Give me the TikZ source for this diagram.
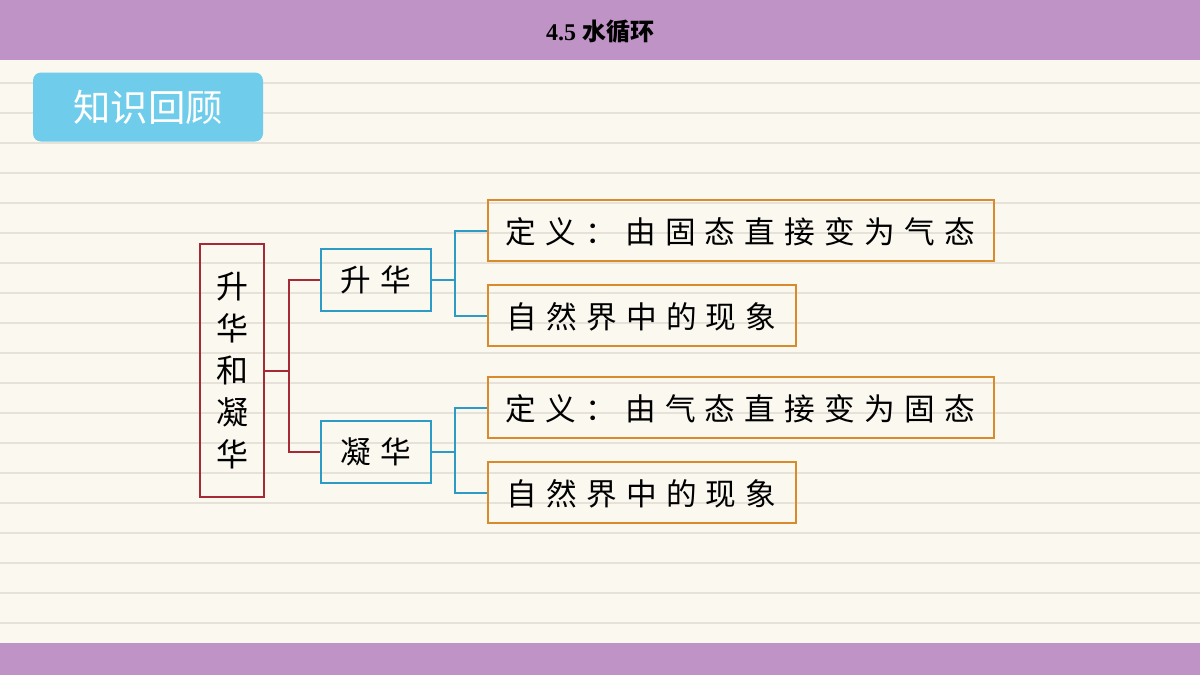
\documentclass[tikz,border=0pt]{standalone}
\usepackage{fontspec}
\setmainfont{Liberation Serif}
\newfontfamily\cjk{Noto Sans CJK SC}
\newfontfamily\cjksp[LetterSpace=30]{Noto Sans CJK SC}
\definecolor{bar}{HTML}{BF93C5}
\definecolor{paper}{HTML}{FBF8F0}
\definecolor{rule}{HTML}{E6E2DA}
\definecolor{badge}{HTML}{6FCDEB}
\definecolor{dred}{HTML}{A52A35}
\definecolor{cblue}{HTML}{2C9CC6}
\definecolor{corange}{HTML}{D98B2B}
\begin{document}
\begin{tikzpicture}[x=0.75pt,y=-0.75pt,
  box/.style={draw,line width=1.5pt,inner sep=0pt,anchor=north west,font=\cjksp\fontsize{23}{27}\selectfont},
  ob/.style={box,draw=corange,align=left,text depth=0pt},
  link/.style={line width=1.5pt}]
\useasboundingbox (0,0) rectangle (1200,675);
\fill[paper] (0,0) rectangle (1200,675);
\foreach \y in {83,113,...,643} \draw[rule,line width=0.8pt] (0,\y)--(1200,\y);
\fill[bar] (0,0) rectangle (1200,60);
\fill[bar] (0,643) rectangle (1200,675);
\node[font=\bfseries\fontsize{18}{20}\selectfont] (title) at (600,32) {4.5 {\cjk 水循环}};
\node[fill=badge,rounded corners=6pt,minimum width=230*0.75pt,minimum height=69*0.75pt,text=white,font=\cjk\fontsize{28}{30}\selectfont] (badge) at (148,107) {知识回顾};
\node[box,draw=dred,minimum width=64*0.75pt,minimum height=253*0.75pt] (root) at (199,243) {};
\node[font=\cjk\fontsize{24}{31.5}\selectfont,align=center] at (root.center) {升\\华\\和\\凝\\华};
\node[box,draw=cblue,minimum width=110*0.75pt,minimum height=62*0.75pt] (s) at (320,248) {升华};
\node[box,draw=cblue,minimum width=110*0.75pt,minimum height=62*0.75pt] (n) at (320,420) {凝华};
\node[ob,minimum width=506*0.75pt,minimum height=61*0.75pt,text width=500*0.75pt] (s1) at (487,199) {\hspace*{11pt}定义：由固态直接变为气态};
\node[ob,minimum width=308*0.75pt,minimum height=61*0.75pt,text width=300*0.75pt] (s2) at (487,284) {\hspace*{11pt}自然界中的现象};
\node[ob,minimum width=506*0.75pt,minimum height=61*0.75pt,text width=500*0.75pt] (n1) at (487,376) {\hspace*{11pt}定义：由气态直接变为固态};
\node[ob,minimum width=308*0.75pt,minimum height=61*0.75pt,text width=300*0.75pt] (n2) at (487,461) {\hspace*{11pt}自然界中的现象};
\draw[link,dred] (root.east) -- (289,0|-root.east);
\draw[link,dred] (s.west) -| (289,0|-root.east) |- (n.west);
\draw[link,cblue] (s.east) -- (455,0|-s.east);
\draw[link,cblue] (s1.west) -| (455,0|-s.east) |- (s2.west);
\draw[link,cblue] (n.east) -- (455,0|-n.east);
\draw[link,cblue] (n1.west) -| (455,0|-n.east) |- (n2.west);
\end{tikzpicture}
\end{document}
